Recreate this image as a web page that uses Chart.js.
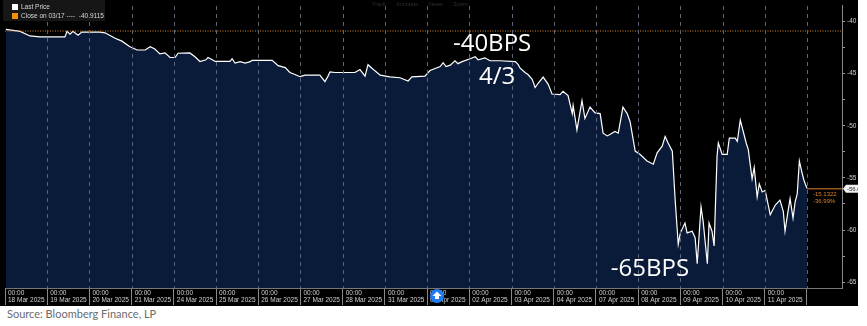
<!DOCTYPE html>
<html>
<head>
<meta charset="utf-8">
<script src="https://cdn.jsdelivr.net/npm/chart.js@4.4.1/dist/chart.umd.min.js"></script>
<style>
  html, body { margin: 0; padding: 0; background: #fff; }
  #wrap { position: absolute; left: 0; top: 0; width: 858px; height: 306px; background: #000; }
  #source { position: absolute; left: 7px; top: 307px; font: 11px Lato, "Open Sans", sans-serif; color: #6b6b6b; }
</style>
</head>
<body>
<div id="wrap"><canvas id="chart" width="858" height="306"></canvas></div>
<div id="source">Source: Bloomberg Finance, LP</div>
<script>
// one label per trading session (x = session index)
const dayLabels = ['18 Mar 2025', '19 Mar 2025', '20 Mar 2025', '21 Mar 2025', '24 Mar 2025',
  '25 Mar 2025', '26 Mar 2025', '27 Mar 2025', '28 Mar 2025', '31 Mar 2025', '01 Apr 2025',
  '02 Apr 2025', '03 Apr 2025', '04 Apr 2025', '07 Apr 2025', '08 Apr 2025', '09 Apr 2025',
  '10 Apr 2025', '11 Apr 2025'];

// last price (x in sessions since 18 Mar open)
const priceX = [0.02,0.36,0.59,0.83,1.42,1.47,1.54,1.61,1.73,1.82,
  2.25,2.37,2.61,2.77,2.96,3.13,3.32,3.44,3.55,3.67,
  3.79,3.91,4.03,4.10,4.38,4.50,4.62,4.76,4.81,4.91,
  4.98,5.33,5.38,5.45,5.57,5.69,5.81,5.85,6.33,6.47,
  6.64,6.75,6.87,6.99,7.11,7.46,7.58,7.65,7.70,7.82,
  8.29,8.41,8.53,8.60,8.70,8.89,9.12,9.36,9.55,9.64,
  9.95,10.07,10.31,10.38,10.45,10.55,10.66,10.73,10.83,11.02,
  11.14,11.21,11.37,11.49,11.73,12.09,12.16,12.20,12.32,12.39,
  12.49,12.56,12.63,12.75,12.87,12.96,13.15,13.22,13.34,13.44,
  13.46,13.55,13.67,13.74,13.86,13.98,14.10,14.17,14.27,14.38,
  14.45,14.53,14.64,14.74,14.81,14.93,15.05,15.21,15.36,15.45,
  15.57,15.64,15.71,15.81,15.88,15.95,16.00,16.11,16.16,16.28,
  16.35,16.40,16.49,16.54,16.64,16.68,16.75,16.80,16.87,16.90,
  16.99,17.11,17.16,17.30,17.35,17.42,17.49,17.56,17.61,17.70,
  17.75,17.82,17.87,17.94,18.01,18.13,18.25,18.36,18.44,18.48,
  18.55,18.60,18.67,18.72,18.77,18.82,18.89,18.93,19.00];
const priceY = [-40.75,-40.94,-41.38,-41.48,-41.48,-40.94,-41.22,-40.94,-41.32,-41.01,
  -41.01,-41.08,-41.60,-41.88,-42.42,-42.73,-42.73,-42.42,-42.63,-43.10,
  -43.01,-43.45,-43.45,-43.04,-43.01,-43.38,-43.83,-43.67,-43.45,-43.67,
  -43.83,-43.83,-43.57,-43.98,-43.85,-43.98,-43.85,-43.73,-43.73,-44.23,
  -44.42,-44.89,-45.08,-45.29,-45.14,-45.14,-45.76,-45.26,-44.82,-44.89,
  -44.89,-44.61,-45.23,-44.14,-44.51,-45.14,-45.31,-45.39,-45.70,-45.31,
  -45.23,-44.70,-44.32,-43.95,-44.32,-44.18,-43.76,-44.04,-43.85,-43.57,
  -43.38,-43.67,-43.48,-43.76,-43.76,-43.85,-44.14,-44.45,-44.89,-45.08,
  -45.55,-46.33,-45.92,-45.33,-46.02,-46.95,-47.02,-46.70,-47.11,-48.83,
  -48.05,-50.40,-47.58,-49.30,-48.20,-48.77,-48.83,-50.71,-50.97,-50.71,
  -50.55,-50.71,-48.20,-48.83,-49.61,-52.43,-52.75,-53.37,-53.69,-52.59,
  -51.96,-51.02,-51.65,-52.43,-57.29,-61.36,-60.27,-59.33,-60.27,-60.11,
  -60.74,-63.24,-57.76,-59.17,-63.24,-59.33,-60.11,-61.52,-52.90,-51.65,
  -52.75,-52.75,-51.18,-51.18,-51.49,-49.46,-50.55,-51.65,-52.28,-55.10,
  -54.00,-56.82,-55.57,-56.35,-56.19,-58.54,-57.60,-57.13,-58.23,-60.11,
  -58.23,-56.98,-58.86,-57.29,-56.51,-53.37,-54.63,-55.25,-56.00];

const closeLevel = -40.9115;
const lastValue = -56.0;
const lastChange = ['-15.1322', '-36.99%'];

// big white call-outs, placed in data units
const noteText = ['-40BPS', '4/3', '-65BPS'];
const noteX = [11.54, 11.66, 15.28];
const noteY = [-42.16, -45.31, -63.78];

const X_MAX = 19.83;
const Y_MIN = -65.56;
const Y_MAX = -38.5;
const tinyFont = { family: 'Arial, "Liberation Sans", sans-serif', size: 6.5 };

// dashed session dividers drawn over the filled area
const sessionLines = {
  id: 'sessionLines',
  afterDatasetsDraw(chart) {
    const { ctx, chartArea, scales: { x } } = chart;
    ctx.save();
    ctx.strokeStyle = '#5c6576';
    ctx.lineWidth = 1;
    ctx.setLineDash([4, 4]);
    for (let d = 1; d < dayLabels.length + 1; d++) {
      const px = Math.round(x.getPixelForValue(d)) + 0.5;
      ctx.beginPath();
      ctx.moveTo(px, chartArea.top);
      ctx.lineTo(px, chartArea.bottom);
      ctx.stroke();
    }
    ctx.restore();
  }
};

const bbgOverlay = {
  id: 'bbgOverlay',
  afterDraw(chart) {
    const { ctx, chartArea, scales: { x, y } } = chart;
    ctx.save();

    // legend box, top left
    ctx.fillStyle = '#161616';
    ctx.fillRect(3, 0, 102, 21);
    ctx.fillStyle = '#ffffff';
    ctx.fillRect(12, 4, 6, 6);
    ctx.fillStyle = '#f0900a';
    ctx.fillRect(12, 13, 6, 6);
    ctx.font = '6.5px Arial, "Liberation Sans", sans-serif';
    ctx.textBaseline = 'middle';
    ctx.fillStyle = '#d8d8d8';
    ctx.fillText('Last Price', 21, 7.5);
    ctx.fillText('Close on 03/17 ----  -40.9115', 21, 16.5);

    // faint toolbar
    ctx.fillStyle = '#2e2e2e';
    ctx.font = '5.5px Arial, sans-serif';
    ctx.fillText('Track       Annotate       News       Zoom', 372, 4);

    // last value marker
    const ly = y.getPixelForValue(lastValue);
    const lx = x.getPixelForValue(priceX[priceX.length - 1]);
    ctx.strokeStyle = '#d9822b';
    ctx.lineWidth = 1;
    ctx.beginPath();
    ctx.moveTo(lx, ly + 0.5);
    ctx.lineTo(chartArea.right, ly + 0.5);
    ctx.stroke();
    ctx.fillStyle = '#d9822b';
    ctx.font = '6px Arial, sans-serif';
    ctx.fillText(lastChange[0], lx + 6, ly + 6);
    ctx.fillText(lastChange[1], lx + 6, ly + 13);

    // axis price tag
    ctx.fillStyle = '#f2f2f2';
    ctx.beginPath();
    ctx.moveTo(chartArea.right + 1, ly + 0.5);
    ctx.lineTo(chartArea.right + 4, ly - 3.5);
    ctx.lineTo(858, ly - 3.5);
    ctx.lineTo(858, ly + 4.5);
    ctx.lineTo(chartArea.right + 4, ly + 4.5);
    ctx.closePath();
    ctx.fill();
    ctx.fillStyle = '#222';
    ctx.fillText(lastValue.toFixed(1), chartArea.right + 5, ly + 1);

    // call-outs
    ctx.fillStyle = '#ffffff';
    ctx.font = '24px "Open Sans", sans-serif';
    ctx.textAlign = 'center';
    ctx.textBaseline = 'middle';
    noteText.forEach((t, i) => {
      ctx.fillText(t, x.getPixelForValue(noteX[i]), y.getPixelForValue(noteY[i]));
    });

    // floating blue button
    ctx.fillStyle = '#1f7cf2';
    ctx.beginPath();
    ctx.arc(437, 296, 7, 0, Math.PI * 2);
    ctx.fill();
    ctx.fillStyle = '#fff';
    ctx.beginPath();
    ctx.moveTo(437, 291.5);
    ctx.lineTo(441.5, 296);
    ctx.lineTo(432.5, 296);
    ctx.closePath();
    ctx.fill();
    ctx.fillRect(435, 296, 4, 3);

    ctx.restore();
  }
};

new Chart(document.getElementById('chart'), {
  type: 'line',
  data: {
    datasets: [
      {
        label: 'Close on 03/17',
        data: [{ x: 0, y: closeLevel }, { x: X_MAX, y: closeLevel }],
        borderColor: '#d9822b',
        borderWidth: 1,
        borderDash: [1, 1.5],
        pointRadius: 0,
        fill: false,
        order: 0
      },
      {
        label: 'Last Price',
        data: priceX.map((v, i) => ({ x: v, y: priceY[i] })),
        borderColor: '#ffffff',
        borderWidth: 1.2,
        backgroundColor: '#0a1b3a',
        pointRadius: 0,
        tension: 0,
        fill: 'start',
        order: 1
      }
    ]
  },
  options: {
    responsive: false,
    animation: false,
    layout: { padding: { left: 5, top: 0, right: 0, bottom: 0 } },
    plugins: { legend: { display: false }, tooltip: { enabled: false } },
    scales: {
      x: {
        type: 'linear',
        min: 0,
        max: X_MAX,
        afterFit: (s) => { s.height = 18; },
        border: { color: '#777', width: 1 },
        grid: {
          drawOnChartArea: false,
          tickLength: 17,
          tickColor: '#8a8a8a'
        },
        ticks: {
          stepSize: 1,
          includeBounds: false,
          autoSkip: false,
          maxRotation: 0,
          align: 'start',
          labelOffset: 3,
          padding: -16,
          color: '#cfcfcf',
          font: tinyFont,
          callback: (v) => (Number.isInteger(v) && v < dayLabels.length) ? ['00:00', dayLabels[v]] : ''
        }
      },
      y: {
        position: 'right',
        min: Y_MIN,
        max: Y_MAX,
        afterFit: (s) => { s.width = 16; },
        border: { color: '#8a8a8a', width: 1 },
        grid: { drawOnChartArea: false, tickLength: 3, tickColor: '#9a9a9a' },
        ticks: {
          stepSize: 2.5,
          includeBounds: false,
          padding: 2,
          color: '#cfcfcf',
          font: tinyFont,
          callback: (v) => (v % 5 === 0) ? String(v) : ''
        }
      }
    }
  },
  plugins: [sessionLines, bbgOverlay]
});
</script>
</body>
</html>
